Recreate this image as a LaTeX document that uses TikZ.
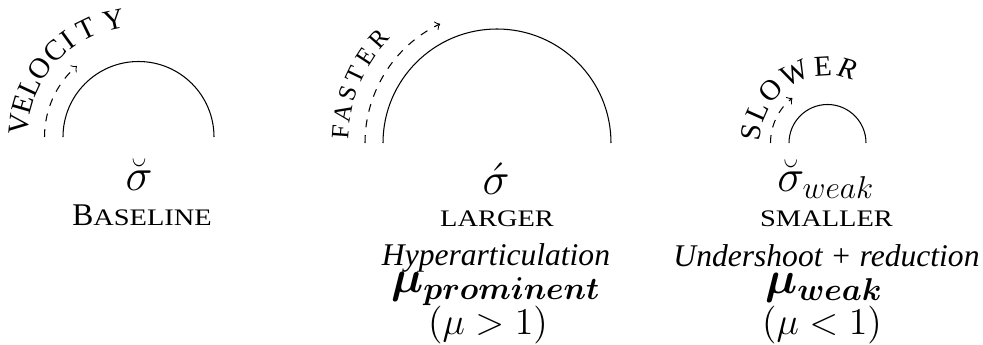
\documentclass[12pt,tikz,border=0pt]{standalone}
\usepackage{amsmath}
\usepackage{fontspec}
\setmainfont{Liberation Serif}
\newfontfamily\scfont[FakeStretch=1.2]{Liberation Serif}
\usetikzlibrary{calc}
\begin{document}
\begin{tikzpicture}[x=0.38pt,y=0.38pt,
  arcline/.style={line width=0.4pt},
  dasharc/.style={line width=0.4pt,dashed,->},
  lab/.style={anchor=base,inner sep=0pt,outer sep=0pt},
  biglab/.style={lab,font=\fontsize{17.28}{20}\selectfont},
  sclab/.style={lab,font=\scfont\fontsize{9}{11}\selectfont},
  itlab/.style={lab,font=\fontsize{12}{14}\selectfont\itshape},
  parlab/.style={lab,font=\fontsize{14.4}{17}\selectfont},
  arclet/.style={inner sep=0pt,outer sep=0pt,font=\fontsize{11}{13}\selectfont},
  arcletsm/.style={inner sep=0pt,outer sep=0pt,font=\fontsize{9.5}{11}\selectfont},
]
\useasboundingbox (0,0) rectangle (983,-345);
% centres
\coordinate (o1) at (138.5,-137);
\coordinate (o2) at (497,-143);
\coordinate (o3) at (827.5,-143);
% solid arcs
\draw[arcline] ($(o1)+(180:75.5)$) arc[start angle=180,end angle=0,radius=75.5];
\draw[arcline] ($(o2)+(180:114)$) arc[start angle=180,end angle=0,radius=114];
\draw[arcline] ($(o3)+(180:38.5)$) arc[start angle=180,end angle=0,radius=38.5];
% dashed arcs
\draw[dasharc] ($(o1)+(180:94)$) arc[start angle=180,end angle=131,radius=94];
\draw[dasharc] ($(o2)+(180:132)$) arc[start angle=180,end angle=115.5,radius=132];
\draw[dasharc] ($(o3)+(180:57)$) arc[start angle=180,end angle=128,radius=57];
% curved words
\foreach \l/\a [count=\i] in {V/174,E/164,L/155,O/145,C/134,I/126,T/116,Y/102}
  \node[arclet,rotate=\a-90] (v\i) at ($(o1)+(\a:120)$) {\l};
\foreach \l/\a [count=\i] in {F/176,A/169,S/161.6,T/154.4,E/146.8,R/138.6}
  \node[arcletsm,rotate=\a-90] (f\i) at ($(o2)+(\a:157)$) {\l};
\foreach \l/\a [count=\i] in {S/172,L/156,O/137,W/115.5,E/93.4,{\itshape R}/74.7}
  \node[arclet,rotate=\a-90] (w\i) at ($(o3)+(\a:77)$) {\l};
% column 1
\node[biglab] (s1) at (139,-191) {$\breve{\sigma}$};
\node[lab] (c1) at (142,-226) {{\fontsize{12}{14}\selectfont B}{\scfont\fontsize{9}{11}\selectfont ASELINE}};
% column 2
\node[biglab] (s2) at (496,-195) {$\acute{\sigma}$};
\node[sclab] (c2) at (497,-227) {LARGER};
\node[itlab] (h2) at (496,-266) {Hyperarticulation};
\node[biglab] (m2) at (496,-293) {$\boldsymbol{\mu_{prominent}}$};
\node[parlab] (p2) at (488,-335) {$(\mu > 1)$};
% column 3
\node[biglab] (s3) at (826,-192) {$\breve{\sigma}_{weak}$};
\node[sclab] (c3) at (826.5,-227) {SMALLER};
\node[itlab] (h3) at (826.5,-267) {Undershoot + reduction};
\node[biglab] (m3) at (824,-294) {$\boldsymbol{\mu_{weak}}$};
\node[parlab] (p3) at (822,-335) {$(\mu < 1)$};
\end{tikzpicture}
\end{document}
